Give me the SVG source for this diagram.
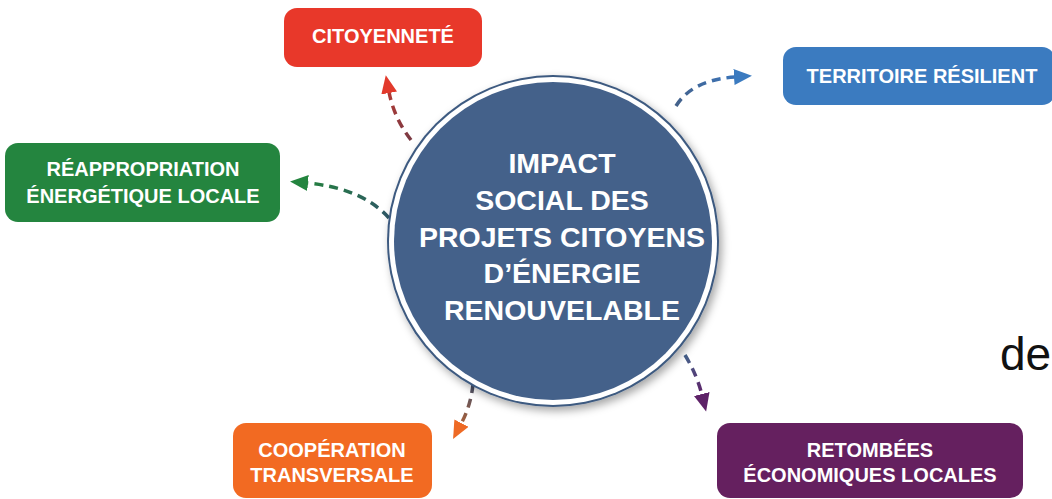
<svg xmlns="http://www.w3.org/2000/svg" width="1052" height="499" viewBox="0 0 1052 499">
<style>
.lbl{font-family:"Liberation Sans",Arial,sans-serif;font-weight:bold;fill:#fff;text-anchor:middle}
.box{font-size:20px}
.ctr{font-size:28.5px}
.con{fill:none;stroke-width:3.5;stroke-dasharray:9 6}
</style>
<defs>
<filter id="sh" x="-20%" y="-20%" width="140%" height="140%">
<feDropShadow dx="3" dy="4" stdDeviation="4" flood-color="#000" flood-opacity="0.35"/>
</filter>
<linearGradient id="g1" gradientUnits="userSpaceOnUse" x1="411" y1="140" x2="389" y2="92"><stop offset="0" stop-color="#7A3A44"/><stop offset="1" stop-color="#B03A35"/></linearGradient>
<linearGradient id="g2" gradientUnits="userSpaceOnUse" x1="676" y1="106" x2="735" y2="77"><stop offset="0" stop-color="#44618A"/><stop offset="1" stop-color="#3B74B8"/></linearGradient>
<linearGradient id="g3" gradientUnits="userSpaceOnUse" x1="389" y1="218" x2="307" y2="183"><stop offset="0" stop-color="#2F5766"/><stop offset="1" stop-color="#24803F"/></linearGradient>
<linearGradient id="g4" gradientUnits="userSpaceOnUse" x1="473" y1="384" x2="461" y2="424"><stop offset="0" stop-color="#44506A"/><stop offset="1" stop-color="#A8603A"/></linearGradient>
<linearGradient id="g5" gradientUnits="userSpaceOnUse" x1="685" y1="355" x2="702" y2="395"><stop offset="0" stop-color="#44618A"/><stop offset="1" stop-color="#5E2268"/></linearGradient>
<marker id="m1" markerUnits="userSpaceOnUse" markerWidth="20" markerHeight="16" refX="1" refY="8" orient="auto"><path d="M0,0 L18,8 L0,16 Z" fill="#E23A2C"/></marker>
<marker id="m2" markerUnits="userSpaceOnUse" markerWidth="20" markerHeight="16" refX="1" refY="8" orient="auto"><path d="M0,0 L18,8 L0,16 Z" fill="#3B7BC0"/></marker>
<marker id="m3" markerUnits="userSpaceOnUse" markerWidth="20" markerHeight="16" refX="1" refY="8" orient="auto"><path d="M0,0 L18,8 L0,16 Z" fill="#24853F"/></marker>
<marker id="m4" markerUnits="userSpaceOnUse" markerWidth="20" markerHeight="16" refX="1" refY="8" orient="auto"><path d="M0,0 L18,8 L0,16 Z" fill="#EE6A25"/></marker>
<marker id="m5" markerUnits="userSpaceOnUse" markerWidth="20" markerHeight="16" refX="1" refY="8" orient="auto"><path d="M0,0 L18,8 L0,16 Z" fill="#5E2268"/></marker>
</defs>
<rect width="1052" height="499" fill="#fff"/>
<g id="connectors">
<path class="con" d="M411,140 Q394,118 389,92" stroke="url(#g1)" marker-end="url(#m1)"/>
<path class="con" d="M676,106 Q692,80 735,77" stroke="url(#g2)" marker-end="url(#m2)"/>
<path class="con" d="M389,218 Q362,188 307,183" stroke="url(#g3)" marker-end="url(#m3)"/>
<path class="con" d="M473,384 Q471,405 461,424" stroke="url(#g4)" marker-end="url(#m4)"/>
<path class="con" d="M685,355 Q697,375 702,395" stroke="url(#g5)" marker-end="url(#m5)"/>
</g>
<g id="center">
<circle cx="553" cy="241" r="166" fill="#3E5A80" filter="url(#sh)"/>
<circle cx="553" cy="241" r="164" fill="#fff"/>
<circle cx="553" cy="241" r="159" fill="#44618A"/>
<text class="lbl ctr" x="562" y="173">IMPACT</text>
<text class="lbl ctr" x="562" y="210">SOCIAL DES</text>
<text class="lbl ctr" x="562" y="247">PROJETS CITOYENS</text>
<text class="lbl ctr" x="562" y="283">D’ÉNERGIE</text>
<text class="lbl ctr" x="562" y="320">RENOUVELABLE</text>
</g>
<g id="citoyennete">
<rect x="284" y="8" width="198" height="59" rx="13" fill="#E8382A"/>
<text class="lbl box" x="383" y="43">CITOYENNETÉ</text>
</g>
<g id="territoire">
<rect x="783" y="47" width="272" height="58" rx="13" fill="#3B7BC0"/>
<text class="lbl box" x="922" y="83">TERRITOIRE RÉSILIENT</text>
</g>
<g id="reappropriation">
<rect x="5" y="143" width="275" height="79" rx="13" fill="#24853F"/>
<text class="lbl box" x="143" y="176">RÉAPPROPRIATION</text>
<text class="lbl box" x="143" y="203">ÉNERGÉTIQUE LOCALE</text>
</g>
<g id="cooperation">
<rect x="233" y="423" width="199" height="75" rx="13" fill="#F26A22"/>
<text class="lbl box" x="332" y="457">COOPÉRATION</text>
<text class="lbl box" x="332" y="482">TRANSVERSALE</text>
</g>
<g id="retombees">
<rect x="717" y="423" width="306" height="75" rx="13" fill="#65205F"/>
<text class="lbl box" x="870" y="457">RETOMBÉES</text>
<text class="lbl box" x="870" y="482">ÉCONOMIQUES LOCALES</text>
</g>
<text x="1000" y="370" font-family="Liberation Sans, Arial, sans-serif" font-size="46" fill="#111">de</text>
</svg>
